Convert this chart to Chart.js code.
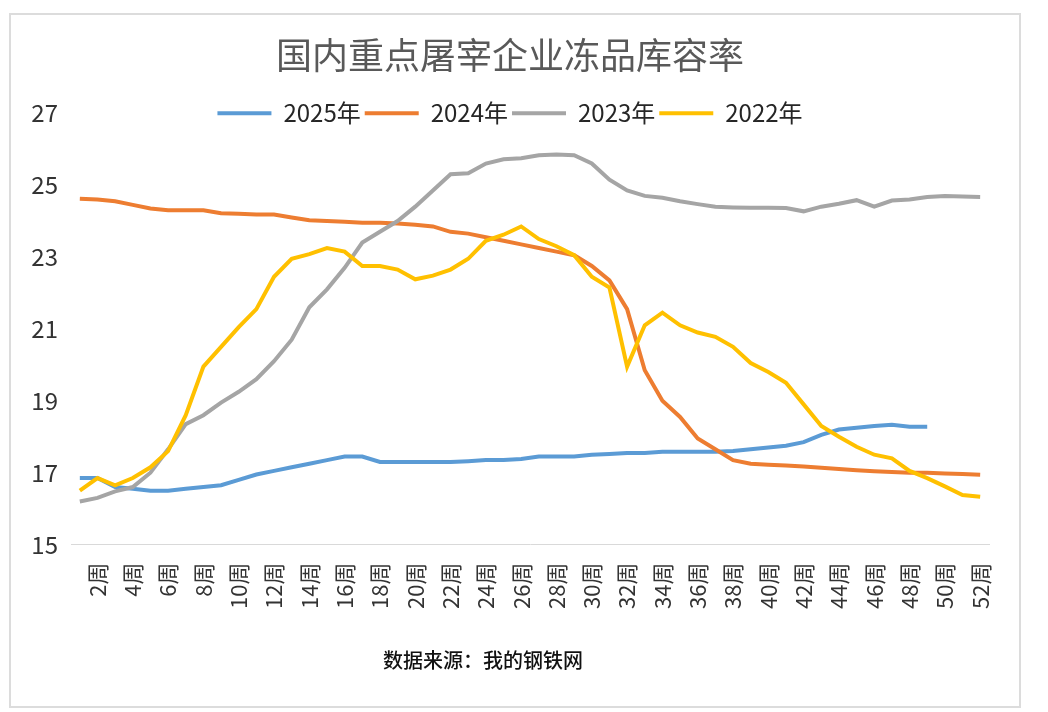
<!DOCTYPE html>
<html>
<head>
<meta charset="utf-8">
<script src="https://cdn.jsdelivr.net/npm/chart.js@4.4.1/dist/chart.umd.min.js"></script>
<style>
  html, body { margin: 0; padding: 0; background: #fff; }
  #wrap { position: relative; width: 1048px; height: 712px; overflow: hidden; }
  #frame { position: absolute; left: 9px; top: 13px; width: 1008px; height: 691px; border: 2px solid #dcdcdc; }
  #chart { position: absolute; left: 0; top: 0; }
  #source { position: absolute; left: 383px; top: 647px; font: 500 20px "Noto Sans CJK SC", sans-serif; color: #111; line-height: 26px; }
</style>
</head>
<body>
<div id="wrap">
  <div id="frame"></div>
  <canvas id="chart" width="1048" height="712"></canvas>
  <div id="source">数据来源：我的钢铁网</div>
</div>
<script>
const weeks = ['1周','2周','3周','4周','5周','6周','7周','8周','9周','10周',
  '11周','12周','13周','14周','15周','16周','17周','18周','19周','20周',
  '21周','22周','23周','24周','25周','26周','27周','28周','29周','30周',
  '31周','32周','33周','34周','35周','36周','37周','38周','39周','40周',
  '41周','42周','43周','44周','45周','46周','47周','48周','49周','50周',
  '51周','52周'];

const y2025 = [16.85,16.85,16.6,16.55,16.5,16.5,16.55,16.6,16.65,16.8,
  16.95,17.05,17.15,17.25,17.35,17.45,17.45,17.3,17.3,17.3,
  17.3,17.3,17.32,17.35,17.35,17.38,17.45,17.45,17.45,17.5,
  17.52,17.55,17.55,17.58,17.58,17.58,17.58,17.6,17.65,17.7,
  17.75,17.85,18.05,18.2,18.25,18.3,18.33,18.28,18.28];

const y2024 = [24.62,24.6,24.55,24.45,24.35,24.3,24.3,24.3,24.22,24.2,
  24.18,24.18,24.1,24.02,24.0,23.98,23.95,23.95,23.93,23.9,
  23.85,23.7,23.65,23.55,23.45,23.35,23.25,23.15,23.05,22.75,
  22.35,21.55,19.85,19.0,18.55,17.95,17.65,17.35,17.25,17.22,
  17.2,17.17,17.14,17.1,17.07,17.04,17.02,17.0,17.0,16.98,
  16.96,16.94];

const y2023 = [16.2,16.3,16.48,16.6,17.0,17.65,18.35,18.6,18.95,19.25,
  19.6,20.1,20.7,21.6,22.1,22.7,23.4,23.7,24.0,24.4,
  24.85,25.3,25.33,25.6,25.72,25.75,25.83,25.85,25.83,25.6,
  25.15,24.85,24.7,24.65,24.55,24.47,24.4,24.38,24.37,24.37,
  24.36,24.27,24.4,24.48,24.58,24.4,24.57,24.6,24.67,24.7,
  24.68,24.67];

const y2022 = [16.5,16.85,16.65,16.85,17.15,17.6,18.6,19.95,20.5,21.05,
  21.55,22.45,22.95,23.08,23.25,23.15,22.75,22.75,22.65,22.38,
  22.48,22.65,22.95,23.45,23.62,23.85,23.5,23.3,23.05,22.45,
  22.15,19.95,21.1,21.45,21.1,20.9,20.78,20.5,20.05,19.8,
  19.5,18.9,18.3,18.0,17.72,17.5,17.4,17.05,16.85,16.62,
  16.38,16.33];

const yTicks = [15,17,19,21,23,25,27];

const FONT = '"Noto Sans CJK SC", "Noto Sans", sans-serif';

function line(label, data, color, order) {
  return {
    label: label,
    data: data,
    borderColor: color,
    backgroundColor: color,
    borderWidth: 4,
    pointRadius: 0,
    pointHoverRadius: 0,
    tension: 0,
    fill: false,
    order: order
  };
}

// move the legend down so it sits on the same row as the top tick (like the excel original)
const legendOnTopTick = {
  id: 'legendOnTopTick',
  afterLayout(chart) {
    const lg = chart.legend;
    if (!lg) return;
    const pad = lg.options.labels.padding;
    const fs = lg.options.labels.font.size;
    const dy = chart.chartArea.top - (lg.top + pad + fs / 2);
    lg.top += dy;
    lg.bottom += dy;
  }
};

const ctx = document.getElementById('chart').getContext('2d');
new Chart(ctx, {
  type: 'line',
  data: {
    labels: weeks,
    datasets: [
      line('2025年', y2025, '#5B9BD5', 4),
      line('2024年', y2024, '#ED7D31', 3),
      line('2023年', y2023, '#A5A5A5', 2),
      line('2022年', y2022, '#FFC000', 1)
    ]
  },
  options: {
    responsive: false,
    animation: false,
    devicePixelRatio: 1,
    layout: { padding: { top: 11, left: 31, right: 59, bottom: 85 } },
    plugins: {
      title: {
        display: true,
        text: '国内重点屠宰企业冻品库容率',
        color: '#595959',
        font: { family: FONT, size: 36, weight: 'normal' },
        padding: { top: 23, bottom: -2 }
      },
      legend: {
        position: 'top',
        labels: {
          usePointStyle: true,
          pointStyle: 'line',
          pointStyleWidth: 54,
          padding: 4,
          color: '#262626',
          font: { family: FONT, size: 24 },
          sort: (a, b) => a.datasetIndex - b.datasetIndex
        }
      },
      tooltip: { enabled: false }
    },
    scales: {
      x: {
        offset: true,
        grid: { display: false, drawTicks: false },
        border: { display: true, color: '#d9d9d9', width: 1 },
        afterFit: s => { s.paddingLeft = 0; s.paddingRight = 0; },
        ticks: {
          autoSkip: false,
          minRotation: 90,
          maxRotation: 90,
          padding: 18,
          color: '#333',
          font: { family: FONT, size: 22 },
          callback: (v, i) => (i % 2 === 1 ? weeks[i] : '')
        }
      },
      y: {
        min: 15,
        max: 27,
        grid: { display: false, drawTicks: false },
        border: { display: false },
        afterBuildTicks: s => { s.ticks = yTicks.map(v => ({ value: v })); },
        afterFit: s => { s.width = 40; },
        ticks: {
          padding: 13,
          color: '#333',
          font: { family: FONT, size: 24 }
        }
      }
    }
  },
  plugins: [legendOnTopTick]
});
</script>
</body>
</html>
